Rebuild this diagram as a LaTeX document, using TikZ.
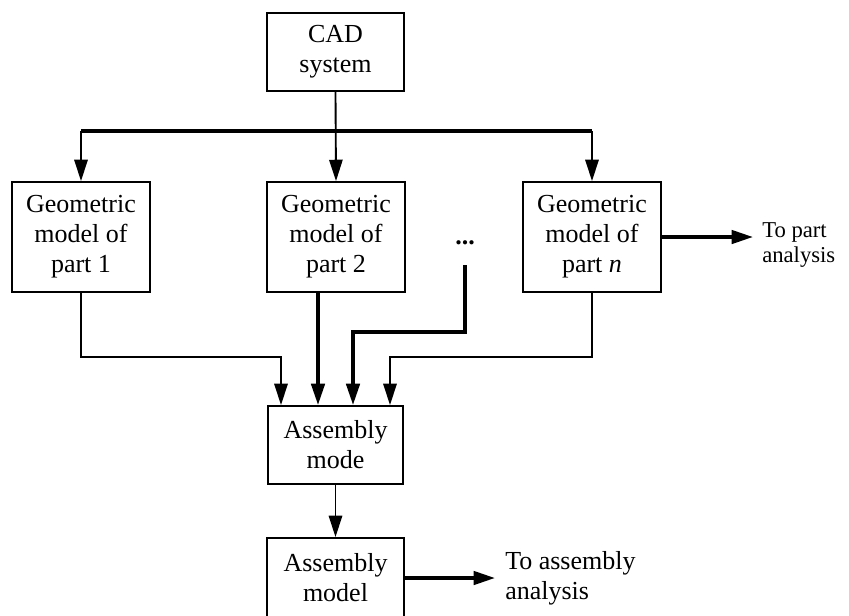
\documentclass[tikz,border=0pt]{standalone}
\usepackage{fontspec}
\setmainfont{Liberation Serif}
\usetikzlibrary{arrows.meta}
\begin{document}
\begin{tikzpicture}[x=0.75pt,y=-0.75pt,
  box/.style={draw,line width=1.4pt,align=center,inner sep=0pt,
    font=\fontsize{19.5pt}{22.5pt}\selectfont},
  conn/.style={line width=1.4pt,-{Triangle[length=16pt,width=10pt]}},
  thickconn/.style={line width=2.6pt,-{Triangle[length=16pt,width=10pt]}},
  bus/.style={line width=2.6pt},
  lbl/.style={align=left,inner sep=0pt,anchor=west}]
\useasboundingbox (0,0) rectangle (849,615);
\clip (0,0) rectangle (849,615);

% source system
\node[box,minimum width=137*0.75pt,minimum height=78*0.75pt] (cad) at (335.5,52) {CAD\\system};

% geometric models of the parts
\node[box,minimum width=138*0.75pt,minimum height=110*0.75pt] (p1) at (81,237) {Geometric\\model of\\part 1};
\node[box,minimum width=138*0.75pt,minimum height=110*0.75pt] (p2) at (336,237) {Geometric\\model of\\part 2};
\node[box,minimum width=138*0.75pt,minimum height=110*0.75pt] (pn) at (592,237) {Geometric\\model of\\part \textit{n}};
\node[font=\fontsize{19.5pt}{22.5pt}\selectfont\bfseries,inner sep=0pt] (dots) at (465,243) {...};
\coordinate (dotsend) at (465,265);

% assembly stages
\node[box,minimum width=135*0.75pt,minimum height=78*0.75pt] (am) at (335.5,445) {Assembly\\mode};
\node[box,minimum width=137*0.75pt,minimum height=80*0.75pt] (amod) at (335.5,578) {Assembly\\model};

% output labels
\node[lbl,font=\fontsize{17pt}{19pt}\selectfont] (partan) at (762,245) {To part\\analysis};
\node[lbl,font=\fontsize{19.5pt}{22.5pt}\selectfont] (asman) at (505,578) {To assembly\\analysis};

% distribution bus from the CAD system
\coordinate (busy) at (0,131);
\draw[bus] (p1.north|-busy) -- (pn.north|-busy);
\draw[conn] (cad.south) -- (p2.north);
\draw[conn] (p1.north|-busy) -- (p1.north);
\draw[conn] (pn.north|-busy) -- (pn.north);

% part models into the assembly mode
\coordinate (lowy) at (0,357);
\coordinate (midy) at (0,332);
\draw[conn] (p1.south) -- (p1.south|-lowy) -| ([xshift=-54.5*0.75pt]am.north);
\draw[thickconn] ([xshift=-18*0.75pt]p2.south) -- ([xshift=-17.5*0.75pt]am.north);
\draw[thickconn] (dotsend) -- (dotsend|-midy) -| ([xshift=17.5*0.75pt]am.north);
\draw[conn] (pn.south) -- (pn.south|-lowy) -| ([xshift=54.5*0.75pt]am.north);

% downstream flow
\draw[conn] (am.south) -- (amod.north);
\draw[thickconn] (pn.east) -- ([xshift=-9*0.75pt]pn.east-|partan.west);
\draw[thickconn] (amod.east|-asman) -- ([xshift=-10*0.75pt]asman.west);
\end{tikzpicture}
\end{document}
